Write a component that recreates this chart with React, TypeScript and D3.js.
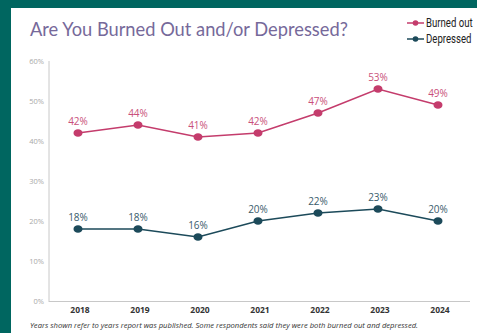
import React from "react";
import * as d3 from "d3";

const years = ["2018", "2019", "2020", "2021", "2022", "2023", "2024"];
const burnedOut = [42, 44, 41, 42, 47, 53, 49];
const depressed = [18, 18, 16, 20, 22, 23, 20];
const yTicks = [0, 10, 20, 30, 40, 50, 60];

const W = 477, H = 333;
const BURN = "#c43c6c";
const DEP = "#1c4a5a";

export default function App() {
  const x = d3.scalePoint<string>().domain(years).range([78, 438]);
  const y = d3.scaleLinear().domain([0, 60]).range([301, 61]);
  const line = d3.line<number>().x((_, i) => x(years[i])!).y((d) => y(d));
  const series = [
    { name: "Burned out", values: burnedOut, color: BURN },
    { name: "Depressed", values: depressed, color: DEP },
  ];
  return (
    <svg width={W} height={H} style={{ position: "fixed", left: 0, top: 0 }}>
      <rect x={0} y={0} width={W} height={H} fill="#006660" />
      <rect x={11} y={8} width={W - 11} height={H - 8} fill="#ffffff" />
      <text x={30} y={36} fontFamily="Lato, 'Open Sans', sans-serif" fontSize={18.3} fill="#76699a">
        Are You Burned Out and/or Depressed?
      </text>
      {series.map((s, i) => (
        <g key={s.name} transform={`translate(0,${27 + i * 16})`}>
          <line x1={407} x2={424} y1={-4} y2={-4} stroke={s.color} strokeWidth={1.5} />
          <circle cx={415.5} cy={-4} r={2.8} fill={s.color} />
          <text transform="translate(426,0) scale(0.8,1)" x={0} y={0} fontFamily="Roboto, sans-serif" fontSize={12} fill="#222">
            {s.name}
          </text>
        </g>
      ))}
      <line x1={49} x2={49} y1={61} y2={302} stroke="#c8c8c8" strokeWidth={1} />
      <line x1={49} x2={470} y1={301.5} y2={301.5} stroke="#c8c8c8" strokeWidth={1} />
      {yTicks.map((t) => (
        <text key={t} x={44} y={y(t) + 3} textAnchor="end" fontFamily="'Open Sans', sans-serif" fontSize={7.5} fill="#a8a8a8">
          {t}%
        </text>
      ))}
      {years.map((yr) => (
        <text key={yr} x={x(yr)! + 2} y={313} textAnchor="middle" fontFamily="'Open Sans', sans-serif" fontWeight="bold" fontSize={8.5} fill="#333">
          {yr}
        </text>
      ))}
      {series.map((s) => (
        <g key={s.name}>
          <path d={line(s.values)!} fill="none" stroke={s.color} strokeWidth={1.6} />
          {s.values.map((v, i) => (
            <g key={i}>
              <ellipse cx={x(years[i])!} cy={y(v)} rx={4.5} ry={3.8} fill={s.color} />
              <text x={x(years[i])!} y={y(v) - 8} textAnchor="middle" fontFamily="'Open Sans', sans-serif" fontSize={10} fill={s.color} opacity={0.9}>
                {v}%
              </text>
            </g>
          ))}
        </g>
      ))}
      <text x={30} y={328} fontFamily="'Open Sans', sans-serif" fontStyle="italic" fontSize={6.8} fill="#333" textLength={388} lengthAdjust="spacingAndGlyphs">
        Years shown refer to years report was published. Some respondents said they were both burned out and depressed.
      </text>
    </svg>
  );
}
